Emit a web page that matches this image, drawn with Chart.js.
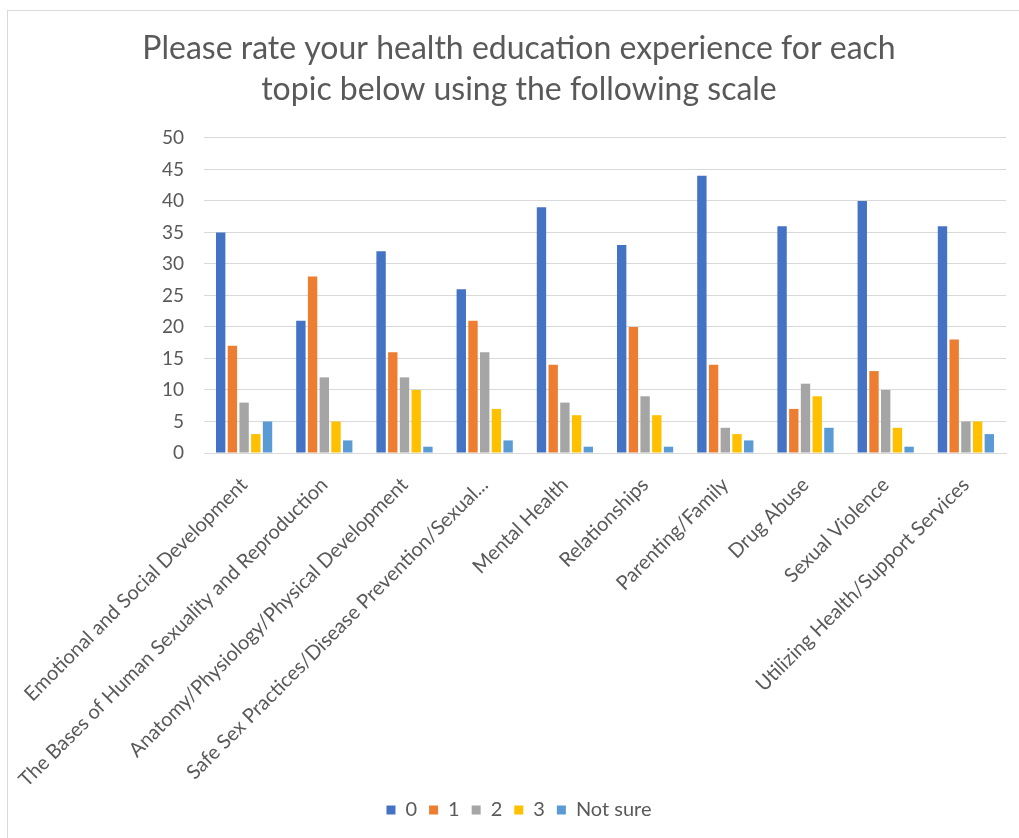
<!DOCTYPE html>
<html>
<head>
<meta charset="utf-8">
<title>Health education experience</title>
<script src="https://cdn.jsdelivr.net/npm/chart.js@4/dist/chart.umd.min.js"></script>
<style>
  html, body { margin: 0; padding: 0; background: #fff; }
  #frame {
    position: absolute; left: 7px; top: 10px;
    width: 1011px; height: 827px;
    border-top: 1px solid #d9d9d9; border-left: 1px solid #d9d9d9;
  }
</style>
</head>
<body>
<div id="frame"><canvas id="chart"></canvas></div>
<script>
// topics along the x axis
const topics = [
    'Emotional and Social Development',
    'The Bases of Human Sexuality and Reproduction',
    'Anatomy/Physiology/Physical Development',
    'Safe Sex Practices/Disease Prevention/Sexual...',
    'Mental Health',
    'Relationships',
    'Parenting/Family',
    'Drug Abuse',
    'Sexual Violence',
    'Utilizing Health/Support Services'
];

// answer counts per rating
const rating0 = [35, 21, 32, 26, 39, 33, 44, 36, 40, 36];
const rating1 = [17, 28, 16, 21, 14, 20, 14, 7, 13, 18];
const rating2 = [8, 12, 12, 16, 8, 9, 4, 11, 10, 5];
const rating3 = [3, 5, 10, 7, 6, 6, 3, 9, 4, 5];
const notSure = [5, 2, 1, 2, 1, 1, 2, 4, 1, 3];

const yTicks = [0, 5, 10, 15, 20, 25, 30, 35, 40, 45, 50];

document.addEventListener('DOMContentLoaded', function() {
    const ctx = document.getElementById('chart').getContext('2d');
    const textColor = '#595959';
    const font = 'Lato, "Open Sans", sans-serif';

    function bars(label, data, color) {
        return {
            label: label,
            data: data,
            backgroundColor: color,
            categoryPercentage: 0.73,
            barPercentage: 0.8
        };
    }

    new Chart(ctx, {
        type: 'bar',
        data: {
            labels: topics,
            datasets: [
                bars('0', rating0, '#4472C4'),
                bars('1', rating1, '#ED7D31'),
                bars('2', rating2, '#A5A5A5'),
                bars('3', rating3, '#FFC000'),
                bars('Not sure', notSure, '#5B9BD5')
            ]
        },
        options: {
            responsive: true,
            maintainAspectRatio: false,
            animation: false,
            layout: { padding: { left: 24, right: 13, top: 0, bottom: 8 } },
            plugins: {
                title: {
                    display: true,
                    text: ['Please rate your health education experience for each',
                           'topic below using the following scale'],
                    color: textColor,
                    font: { family: font, size: 32, weight: 'normal', lineHeight: 1.28 },
                    padding: { top: 17, bottom: 28 }
                },
                legend: {
                    position: 'bottom',
                    labels: {
                        color: textColor,
                        font: { family: font, size: 20 },
                        boxWidth: 9,
                        boxHeight: 9,
                        padding: 12
                    }
                },
                tooltip: { enabled: false }
            },
            scales: {
                x: {
                    grid: { display: false, drawTicks: false },
                    border: { color: '#d9d9d9' },
                    ticks: {
                        color: textColor,
                        font: { family: font, size: 20 },
                        minRotation: 45,
                        maxRotation: 45,
                        autoSkip: false,
                        padding: 20
                    },
                    afterFit: function(scale) {
                        // the rotated labels may spill past the plot edges, as in the original
                        scale.height = 335;
                        scale.paddingLeft = 0;
                        scale.paddingRight = 0;
                    }
                },
                y: {
                    min: 0,
                    max: 50,
                    afterBuildTicks: function(scale) {
                        scale.ticks = yTicks.map(function(v) { return { value: v }; });
                    },
                    grid: { color: '#d9d9d9', drawTicks: false },
                    border: { display: false },
                    ticks: {
                        color: textColor,
                        font: { family: font, size: 19 },
                        padding: 20
                    },
                    afterFit: function(scale) { scale.width = 172; }
                }
            }
        }
    });
});
</script>
</body>
</html>
